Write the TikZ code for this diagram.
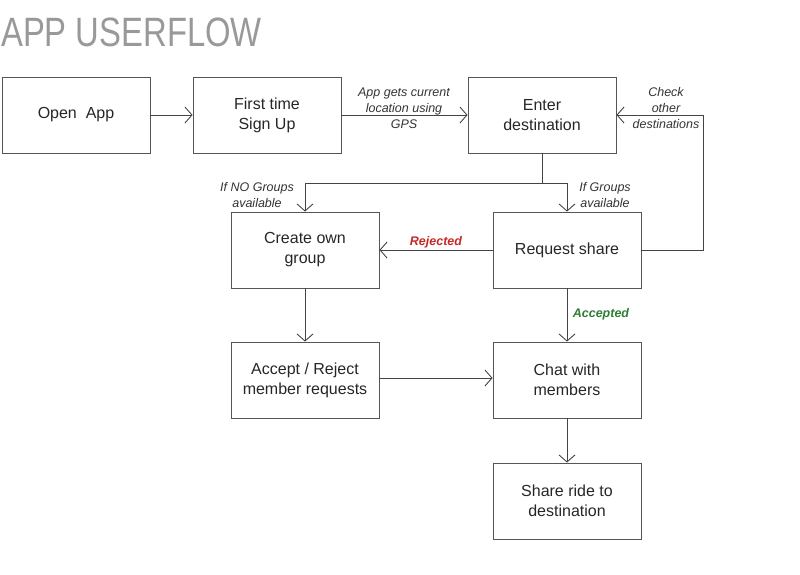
\documentclass[tikz,border=0pt]{standalone}
\usepackage{fontspec}
\setmainfont{Liberation Sans}
\usetikzlibrary{arrows.meta}
\definecolor{boxline}{HTML}{555555}
\definecolor{conn}{HTML}{444444}
\definecolor{titlegray}{HTML}{999999}
\definecolor{rejred}{HTML}{C62828}
\definecolor{accgreen}{HTML}{2E7D32}
\tikzset{
  flowbox/.style={draw=boxline, line width=0.9pt, minimum width=148pt, minimum height=76pt, inner sep=0pt, align=center, font=\fontsize{16}{20}\selectfont, text=black!85},
  conline/.style={draw=conn, line width=0.9pt, -{Straight Barb[length=7pt,width=16pt]}},
  lbl/.style={font=\fontsize{12.5}{16}\selectfont\itshape, text=black!80, align=center, inner sep=0pt},
}
\begin{document}
\begin{tikzpicture}[x=1pt,y=-1pt]
\useasboundingbox (0,0) rectangle (800,574);
\node[anchor=west, text=titlegray, font=\fontsize{41}{44}\selectfont, inner sep=0pt] (title) at (1,32) {\scalebox{0.8}[1]{APP USERFLOW}};

\node[flowbox] (open) at (76,115) {Open\ \ App};
\node[flowbox] (signup) at (267,115) {First time\\Sign Up};
\node[flowbox] (enter) at (542,115) {Enter\\destination};
\node[flowbox] (create) at (305,250) {Create own\\group};
\node[flowbox] (request) at (567,250) {Request share};
\node[flowbox] (accept) at (305,380) {Accept / Reject\\member requests};
\node[flowbox] (chat) at (567,380) {Chat with\\members};
\node[flowbox] (share) at (567,501) {Share ride to\\destination};

\coordinate (split) at (542,183);
\coordinate (loopr) at (703,250);
\coordinate (loopt) at (703,115);

\draw[conline] (open) -- (signup);
\draw[conline] (signup) -- (enter);
\draw[draw=conn, line width=0.9pt] (enter.south) -- (split);
\draw[conline] (split) -| (create.north);
\draw[conline] (split) -| (request.north);
\draw[conline] (request.east) -- (loopr) -- (loopt) -- (enter.east);
\draw[conline] (request.west) -- (create.east);
\draw[conline] (request.south) -- (chat.north);
\draw[conline] (create.south) -- (accept.north);
\draw[conline] (accept.east |- 0,378) -- (chat.west |- 0,378);
\draw[conline] (chat.south) -- (share.north);

\node[lbl] (l1) at (404,108) {App gets current\\location using\\GPS};
\node[lbl] (l2) at (666,108) {Check\\other\\destinations};
\node[lbl] (l3) at (257,195) {If NO Groups\\available};
\node[lbl] (l4) at (605,195) {If Groups\\available};
\node[lbl, font=\fontsize{12.5}{16}\selectfont\itshape\bfseries, text=rejred] (l5) at (436,242) {Rejected};
\node[lbl, font=\fontsize{12.5}{16}\selectfont\itshape\bfseries, text=accgreen] (l6) at (601,314) {Accepted};
\end{tikzpicture}
\end{document}
